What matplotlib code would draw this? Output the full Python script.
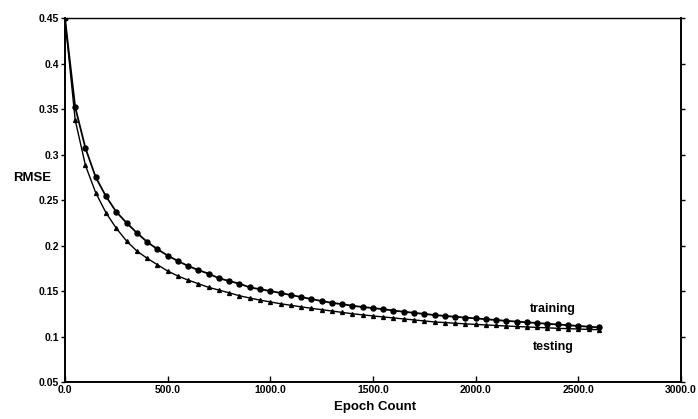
import numpy as np
import matplotlib
matplotlib.use("Agg")
import matplotlib.pyplot as plt

# Epochs sampled every 50 iterations
epochs = list(range(0, 2650, 50))

rmse_training = [
    0.450, 0.352, 0.307, 0.275, 0.254, 0.237, 0.225, 0.214, 0.204, 0.196,
    0.189, 0.183, 0.1775, 0.173, 0.169, 0.164, 0.161, 0.158, 0.154, 0.152,
    0.150, 0.1478, 0.1456, 0.1434, 0.1412, 0.139, 0.137, 0.1355, 0.1338, 0.1324,
    0.1312, 0.130, 0.1285, 0.1272, 0.126, 0.1248, 0.1236, 0.1226, 0.1217, 0.1208,
    0.1199, 0.119, 0.1181, 0.1172, 0.1164, 0.1156, 0.1148, 0.114, 0.1132, 0.1124,
    0.1116, 0.1108, 0.110,
]

rmse_testing = [
    0.450, 0.338, 0.288, 0.258, 0.236, 0.219, 0.205, 0.194, 0.186, 0.179,
    0.172, 0.1665, 0.162, 0.158, 0.154, 0.151, 0.148, 0.1448, 0.1423, 0.140,
    0.138, 0.136, 0.1343, 0.1326, 0.131, 0.1295, 0.128, 0.1265, 0.125, 0.1238,
    0.1226, 0.1215, 0.1204, 0.1193, 0.1182, 0.1171, 0.116, 0.1153, 0.1146, 0.1139,
    0.1133, 0.1127, 0.1121, 0.1115, 0.111, 0.1105, 0.110, 0.1095, 0.109, 0.1086,
    0.1082, 0.1078, 0.1075,
]

x_ticks = [0, 500, 1000, 1500, 2000, 2500, 3000]
x_tick_labels = ["0.0", "500.0", "1000.0", "1500.0", "2000.0", "2500.0", "3000.0"]
y_ticks = [0.05, 0.1, 0.15, 0.2, 0.25, 0.3, 0.35, 0.4, 0.45]
y_tick_labels = ["0.05", "0.1", "0.15", "0.2", "0.25", "0.3", "0.35", "0.4", "0.45"]

FONT = ["Liberation Sans Narrow", "Liberation Sans", "DejaVu Sans"]

fig = plt.figure(figsize=(6.98, 4.19), dpi=100)
ax = fig.add_axes([0.093, 0.0883, 0.8826, 0.8687])

ax.plot(epochs, rmse_training, color="black", lw=1.3, marker="o", ms=3.6,
        markerfacecolor="black", markeredgecolor="black")
ax.plot(epochs, rmse_testing, color="black", lw=1.0, marker="^", ms=2.8,
        markerfacecolor="black", markeredgecolor="black")

ax.set_xlim(0, 3000)
ax.set_ylim(0.05, 0.45)

ax.set_xticks(x_ticks)
ax.set_xticklabels(x_tick_labels, fontfamily=FONT, fontweight="bold", fontsize=7.5)
ax.set_yticks(y_ticks)
ax.set_yticklabels(y_tick_labels, fontfamily=FONT, fontweight="bold", fontsize=7.5)

ax.tick_params(axis="x", direction="in", length=4, width=1, pad=2)
ax.tick_params(axis="y", direction="out", length=3, width=1, pad=1)
ax.tick_params(axis="y", which="both", right=True)

for side in ["left", "bottom", "right"]:
    ax.spines[side].set_linewidth(1.4)
ax.spines["top"].set_linewidth(1.0)

ax.text(2377, 0.130, "training", fontfamily=FONT, fontweight="bold",
        fontsize=9, ha="center", va="center")
ax.text(2377, 0.0885, "testing", fontfamily=FONT, fontweight="bold",
        fontsize=9, ha="center", va="center")

fig.text(32 / 698, 1 - 178 / 419, "RMSE", fontfamily=FONT, fontweight="bold",
         fontsize=9.5, ha="center", va="center")
fig.text(375 / 698, 1 - 407 / 419, "Epoch Count", fontfamily=FONT, fontweight="bold",
         fontsize=9.5, ha="center", va="center")

fig.savefig("out.png", dpi=100)
